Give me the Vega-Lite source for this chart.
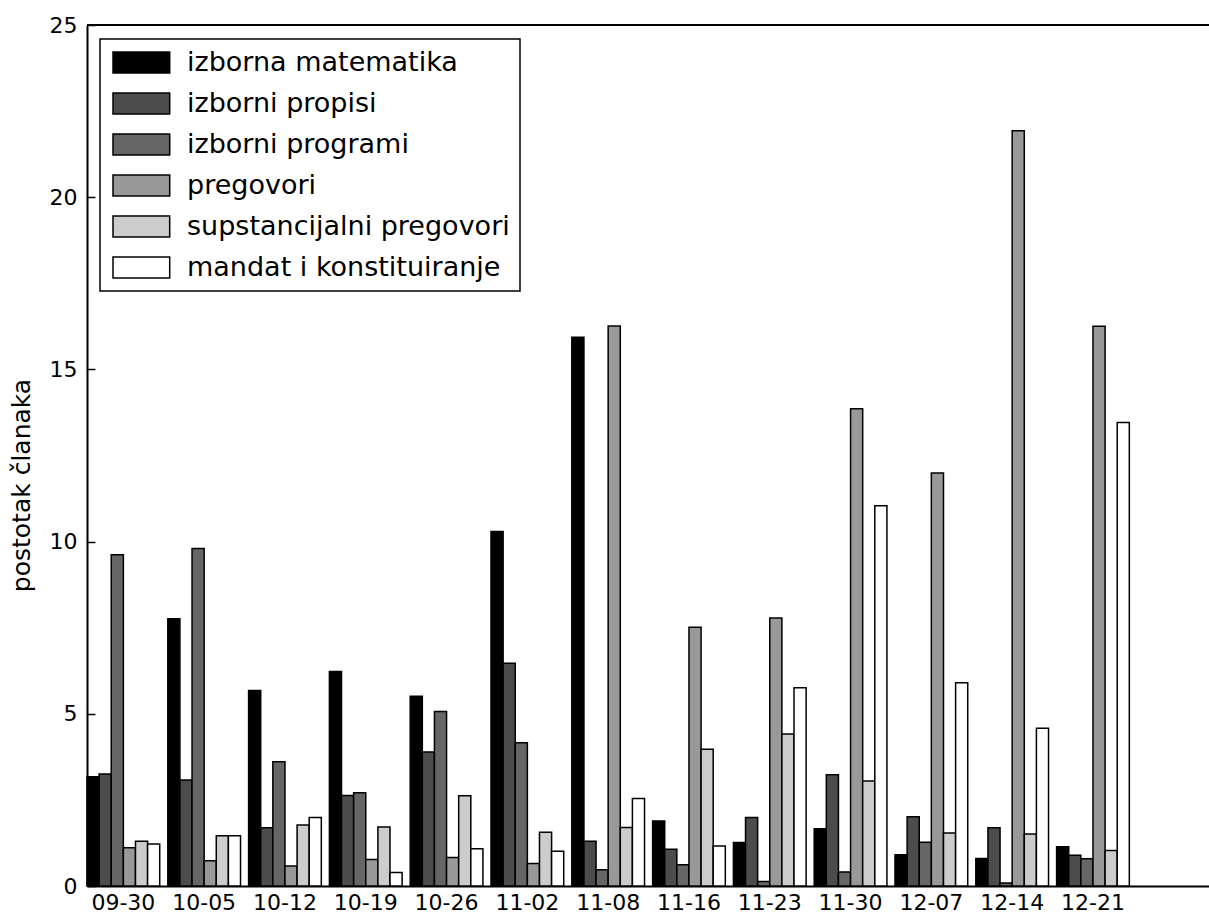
{
  "$schema": "https://vega.github.io/schema/vega-lite/v6.json",
  "width": 1122,
  "height": 861,
  "autosize": {"type": "none"},
  "padding": {"left": 87, "top": 25, "right": 0, "bottom": 29},
  "background": "white",
  "config": {
    "font": "DejaVu Sans",
    "view": {"stroke": "transparent", "strokeWidth": 0, "strokeOpacity": 0},
    "legend": {"strokeWidth": 1.5}
  },
  "data": {
    "values": [
      {"d": "09-30", "s": "izborna matematika", "v": 3.17},
      {"d": "09-30", "s": "izborni propisi", "v": 3.25},
      {"d": "09-30", "s": "izborni programi", "v": 9.62},
      {"d": "09-30", "s": "pregovori", "v": 1.11},
      {"d": "09-30", "s": "supstancijalni pregovori", "v": 1.30},
      {"d": "09-30", "s": "mandat i konstituiranje", "v": 1.22},
      {"d": "10-05", "s": "izborna matematika", "v": 7.76},
      {"d": "10-05", "s": "izborni propisi", "v": 3.08},
      {"d": "10-05", "s": "izborni programi", "v": 9.80},
      {"d": "10-05", "s": "pregovori", "v": 0.73},
      {"d": "10-05", "s": "supstancijalni pregovori", "v": 1.46},
      {"d": "10-05", "s": "mandat i konstituiranje", "v": 1.46},
      {"d": "10-12", "s": "izborna matematika", "v": 5.68},
      {"d": "10-12", "s": "izborni propisi", "v": 1.69},
      {"d": "10-12", "s": "izborni programi", "v": 3.61},
      {"d": "10-12", "s": "pregovori", "v": 0.58},
      {"d": "10-12", "s": "supstancijalni pregovori", "v": 1.77},
      {"d": "10-12", "s": "mandat i konstituiranje", "v": 1.99},
      {"d": "10-19", "s": "izborna matematika", "v": 6.23},
      {"d": "10-19", "s": "izborni propisi", "v": 2.63},
      {"d": "10-19", "s": "izborni programi", "v": 2.71},
      {"d": "10-19", "s": "pregovori", "v": 0.77},
      {"d": "10-19", "s": "supstancijalni pregovori", "v": 1.71},
      {"d": "10-19", "s": "mandat i konstituiranje", "v": 0.39},
      {"d": "10-26", "s": "izborna matematika", "v": 5.51},
      {"d": "10-26", "s": "izborni propisi", "v": 3.89},
      {"d": "10-26", "s": "izborni programi", "v": 5.07},
      {"d": "10-26", "s": "pregovori", "v": 0.83},
      {"d": "10-26", "s": "supstancijalni pregovori", "v": 2.62},
      {"d": "10-26", "s": "mandat i konstituiranje", "v": 1.08},
      {"d": "11-02", "s": "izborna matematika", "v": 10.29},
      {"d": "11-02", "s": "izborni propisi", "v": 6.47},
      {"d": "11-02", "s": "izborni programi", "v": 4.16},
      {"d": "11-02", "s": "pregovori", "v": 0.65},
      {"d": "11-02", "s": "supstancijalni pregovori", "v": 1.56},
      {"d": "11-02", "s": "mandat i konstituiranje", "v": 1.01},
      {"d": "11-08", "s": "izborna matematika", "v": 15.93},
      {"d": "11-08", "s": "izborni propisi", "v": 1.30},
      {"d": "11-08", "s": "izborni programi", "v": 0.47},
      {"d": "11-08", "s": "pregovori", "v": 16.26},
      {"d": "11-08", "s": "supstancijalni pregovori", "v": 1.70},
      {"d": "11-08", "s": "mandat i konstituiranje", "v": 2.54},
      {"d": "11-16", "s": "izborna matematika", "v": 1.89},
      {"d": "11-16", "s": "izborni propisi", "v": 1.07},
      {"d": "11-16", "s": "izborni programi", "v": 0.62},
      {"d": "11-16", "s": "pregovori", "v": 7.51},
      {"d": "11-16", "s": "supstancijalni pregovori", "v": 3.97},
      {"d": "11-16", "s": "mandat i konstituiranje", "v": 1.16},
      {"d": "11-23", "s": "izborna matematika", "v": 1.26},
      {"d": "11-23", "s": "izborni propisi", "v": 1.99},
      {"d": "11-23", "s": "izborni programi", "v": 0.13},
      {"d": "11-23", "s": "pregovori", "v": 7.78},
      {"d": "11-23", "s": "supstancijalni pregovori", "v": 4.41},
      {"d": "11-23", "s": "mandat i konstituiranje", "v": 5.76},
      {"d": "11-30", "s": "izborna matematika", "v": 1.66},
      {"d": "11-30", "s": "izborni propisi", "v": 3.23},
      {"d": "11-30", "s": "izborni programi", "v": 0.41},
      {"d": "11-30", "s": "pregovori", "v": 13.86},
      {"d": "11-30", "s": "supstancijalni pregovori", "v": 3.05},
      {"d": "11-30", "s": "mandat i konstituiranje", "v": 11.04},
      {"d": "12-07", "s": "izborna matematika", "v": 0.91},
      {"d": "12-07", "s": "izborni propisi", "v": 2.01},
      {"d": "12-07", "s": "izborni programi", "v": 1.27},
      {"d": "12-07", "s": "pregovori", "v": 11.99},
      {"d": "12-07", "s": "supstancijalni pregovori", "v": 1.54},
      {"d": "12-07", "s": "mandat i konstituiranje", "v": 5.90},
      {"d": "12-14", "s": "izborna matematika", "v": 0.80},
      {"d": "12-14", "s": "izborni propisi", "v": 1.69},
      {"d": "12-14", "s": "izborni programi", "v": 0.09},
      {"d": "12-14", "s": "pregovori", "v": 21.93},
      {"d": "12-14", "s": "supstancijalni pregovori", "v": 1.51},
      {"d": "12-14", "s": "mandat i konstituiranje", "v": 4.58},
      {"d": "12-21", "s": "izborna matematika", "v": 1.14},
      {"d": "12-21", "s": "izborni propisi", "v": 0.89},
      {"d": "12-21", "s": "izborni programi", "v": 0.79},
      {"d": "12-21", "s": "pregovori", "v": 16.25},
      {"d": "12-21", "s": "supstancijalni pregovori", "v": 1.03},
      {"d": "12-21", "s": "mandat i konstituiranje", "v": 13.46}
    ]
  },
  "layer": [
    {
      "mark": {"type": "bar", "stroke": "black", "strokeWidth": 1.5},
      "encoding": {
        "x": {
          "field": "d",
          "type": "nominal",
          "sort": null,
          "scale": {"paddingInner": 0.1, "paddingOuter": 0.493, "align": 0, "round": false},
          "axis": {
            "title": null,
            "labelAngle": 0,
            "labelFontSize": 22,
            "labelColor": "black",
            "ticks": false,
            "domainColor": "black",
            "domainWidth": 2,
            "labelPadding": 6,
            "bandPosition": 0.5556
          }
        },
        "xOffset": {
          "field": "s",
          "type": "nominal",
          "sort": ["izborna matematika", "izborni propisi", "izborni programi", "pregovori", "supstancijalni pregovori", "mandat i konstituiranje"],
          "scale": {"paddingInner": 0, "paddingOuter": 0}
        },
        "y": {
          "field": "v",
          "type": "quantitative",
          "scale": {"domain": [0, 25], "nice": false},
          "axis": {
            "values": [0, 5, 10, 15, 20, 25],
            "title": "postotak članaka",
            "titleFontSize": 25,
            "titleFontWeight": "normal",
            "titleColor": "black",
            "titleX": -53,
            "titleY": 460,
            "labelFontSize": 22,
            "labelColor": "black",
            "grid": false,
            "domainColor": "black",
            "domainWidth": 2,
            "tickColor": "black",
            "tickWidth": 1.5,
            "tickSize": -8,
            "labelPadding": 18
          }
        },
        "color": {
          "field": "s",
          "type": "nominal",
          "scale": {
            "domain": ["izborna matematika", "izborni propisi", "izborni programi", "pregovori", "supstancijalni pregovori", "mandat i konstituiranje"],
            "range": ["#000000", "#4c4c4c", "#666666", "#999999", "#cccccc", "#ffffff"]
          },
          "legend": {
            "title": null,
            "orient": "none",
            "legendX": 13,
            "legendY": 14,
            "symbolType": "M-1,-1H4.4V1H-1Z",
            "symbolSize": 441,
            "symbolStrokeColor": "black",
            "symbolStrokeWidth": 1.5,
            "symbolOpacity": 1,
            "labelFontSize": 27,
            "labelColor": "black",
            "labelOffset": 50,
            "labelLimit": 500,
            "rowPadding": 13,
            "padding": 10,
            "strokeColor": "black",
            "fillColor": "white",
            "cornerRadius": 0
          }
        }
      }
    },
    {
      "mark": {"type": "rule", "stroke": "black", "strokeWidth": 2},
      "encoding": {"y": {"datum": 25}}
    }
  ]
}
